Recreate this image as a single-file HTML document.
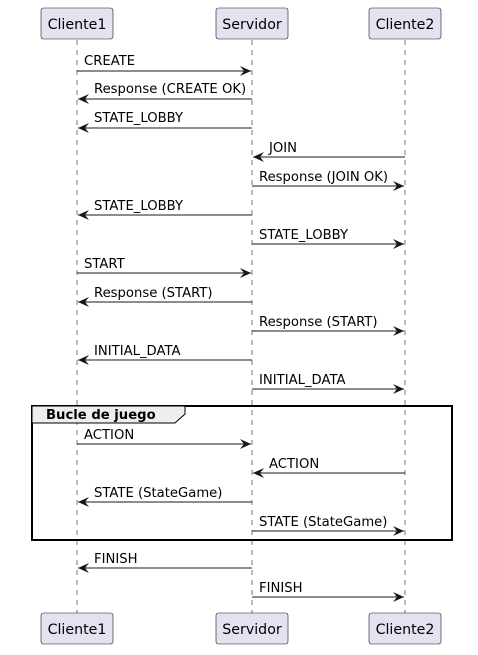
<!DOCTYPE html>
<html><head><meta charset="utf-8"><style>body{margin:0;background:#fff}svg{display:block}</style></head>
<body>
<svg width="478" height="655" viewBox="0 0 478 655" xmlns="http://www.w3.org/2000/svg" font-family="DejaVu Sans, Liberation Sans, sans-serif" font-size="13.2">
<defs>
<marker id="a" markerWidth="12" markerHeight="10" refX="11" refY="5" orient="auto" markerUnits="userSpaceOnUse">
<path d="M0,0 L11,5 L0,10 L4,5 Z" fill="#181818"/></marker>
</defs>
<g stroke="#181818" stroke-width="0.6" stroke-dasharray="5,5">
<line x1="77" y1="40" x2="77" y2="613"/>
<line x1="252" y1="40" x2="252" y2="613"/>
<line x1="405" y1="40" x2="405" y2="613"/>
</g>
<g fill="#E2E2F0" stroke="#181818" stroke-width="0.6">
<rect x="41" y="8" width="72" height="31" rx="2.5"/>
<rect x="216" y="8" width="72" height="31" rx="2.5"/>
<rect x="369" y="8" width="72" height="31" rx="2.5"/>
<rect x="41" y="613" width="72" height="31" rx="2.5"/>
<rect x="216" y="613" width="72" height="31" rx="2.5"/>
<rect x="369" y="613" width="72" height="31" rx="2.5"/>
</g>
<g font-size="14.2" text-anchor="middle" fill="#000">
<text x="77" y="29">Cliente1</text><text x="252" y="29">Servidor</text><text x="405" y="29">Cliente2</text>
<text x="77" y="634">Cliente1</text><text x="252" y="634">Servidor</text><text x="405" y="634">Cliente2</text>
</g>
<rect x="32" y="406" width="420" height="134" fill="none" stroke="#000" stroke-width="2"/>
<path d="M32,406 L185,406 L185,414 L175,423 L32,423 Z" fill="#EEEEEE" stroke="#000" stroke-width="1"/>
<text x="46" y="419" font-weight="bold">Bucle de juego</text>
<g stroke="#181818" stroke-width="1" marker-end="url(#a)">
<line x1="77" y1="71" x2="251" y2="71"/>
<line x1="252" y1="99" x2="78" y2="99"/>
<line x1="252" y1="128" x2="78" y2="128"/>
<line x1="405" y1="157" x2="253" y2="157"/>
<line x1="252" y1="186" x2="404" y2="186"/>
<line x1="252" y1="215" x2="78" y2="215"/>
<line x1="252" y1="244" x2="404" y2="244"/>
<line x1="77" y1="273" x2="251" y2="273"/>
<line x1="252" y1="302" x2="78" y2="302"/>
<line x1="252" y1="331" x2="404" y2="331"/>
<line x1="252" y1="360" x2="78" y2="360"/>
<line x1="252" y1="389" x2="404" y2="389"/>
<line x1="77" y1="444" x2="251" y2="444"/>
<line x1="405" y1="473" x2="253" y2="473"/>
<line x1="252" y1="502" x2="78" y2="502"/>
<line x1="252" y1="531" x2="404" y2="531"/>
<line x1="252" y1="568" x2="78" y2="568"/>
<line x1="252" y1="597" x2="404" y2="597"/>
</g>
<g fill="#000">
<text x="84" y="65">CREATE</text>
<text x="94" y="93">Response (CREATE OK)</text>
<text x="94" y="122">STATE_LOBBY</text>
<text x="269" y="152">JOIN</text>
<text x="259" y="181">Response (JOIN OK)</text>
<text x="94" y="210">STATE_LOBBY</text>
<text x="259" y="239">STATE_LOBBY</text>
<text x="84" y="268">START</text>
<text x="94" y="297">Response (START)</text>
<text x="259" y="326">Response (START)</text>
<text x="94" y="355">INITIAL_DATA</text>
<text x="259" y="384">INITIAL_DATA</text>
<text x="84" y="439">ACTION</text>
<text x="269" y="468">ACTION</text>
<text x="94" y="497">STATE (StateGame)</text>
<text x="259" y="526">STATE (StateGame)</text>
<text x="94" y="563">FINISH</text>
<text x="259" y="592">FINISH</text>
</g>
</svg>
</body></html>
